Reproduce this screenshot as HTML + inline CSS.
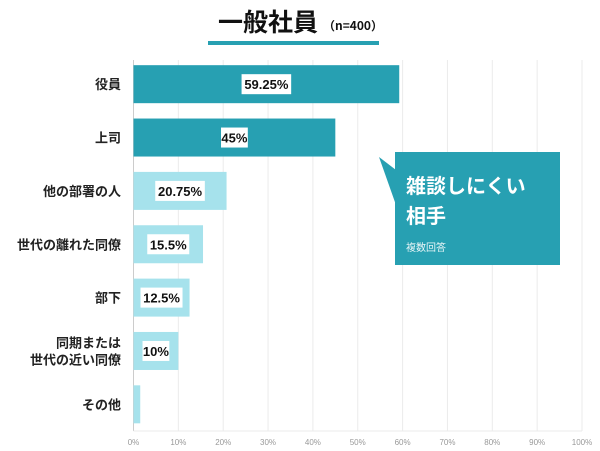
<!DOCTYPE html>
<html><head><meta charset="utf-8"><style>
body{margin:0;background:#fff;font-family:"Liberation Sans","Noto Sans CJK JP",sans-serif;}
#wrap{position:relative;width:600px;height:451px;overflow:hidden;}
</style></head><body>
<div id="wrap">
<svg id="svg" width="600" height="451" xmlns="http://www.w3.org/2000/svg">
<text x="318" y="31" text-anchor="end" font-size="25" font-weight="bold" fill="#111" font-family="'Noto Sans CJK JP',sans-serif">一般社員</text>
<text x="323" y="30" font-size="12" font-weight="bold" fill="#111" font-family="'Noto Sans CJK JP',sans-serif">（n=400）</text>
<rect x="208" y="41" width="171" height="4" fill="#27a0b2"/>
<g id="grid"></g>
<g id="bars"></g>
<g>
<polygon points="379,157 396,170 396,205" fill="#27a0b2"/>
<rect x="395" y="152" width="165" height="113" fill="#27a0b2"/>
<text x="406" y="193" font-size="20" font-weight="bold" fill="#fff" font-family="'Noto Sans CJK JP',sans-serif">雑談しにくい</text>
<text x="406" y="223" font-size="20" font-weight="bold" fill="#fff" font-family="'Noto Sans CJK JP',sans-serif">相手</text>
<text x="406" y="251" font-size="10" fill="#e6f4f6" font-family="'Noto Sans CJK JP',sans-serif">複数回答</text>
</g>
</svg>
</div>
<script>
const categories=[["役員"],["上司"],["他の部署の人"],["世代の離れた同僚"],["部下"],["同期または","世代の近い同僚"],["その他"]];
const values=[59.25,45,20.75,15.5,12.5,10,1.5];
const valueLabels=["59.25%","45%","20.75%","15.5%","12.5%","10%",""];
const ticks=[0,10,20,30,40,50,60,70,80,90,100];
const ns="http://www.w3.org/2000/svg";
const x0=133.5,x1=582,yTop=60,yBot=431,bandTop=57.5;
const xs=v=>x0+(x1-x0)*v/100;
const band=(yBot-bandTop)/categories.length;
const yc=i=>bandTop+band*(i+0.5);
function mk(t,a,p){const e=document.createElementNS(ns,t);for(const k in a)e.setAttribute(k,a[k]);p.appendChild(e);return e;}
const grid=document.getElementById('grid'),bars=document.getElementById('bars');
ticks.forEach(t=>{
 const l=mk('line',{x1:xs(t),x2:xs(t),y1:yTop,y2:yBot,stroke:t===0?'#ccc':'#ebebeb','stroke-width':1},grid);
 
 
 const tx=mk('text',{x:xs(t),y:445,'text-anchor':'middle','font-size':8,fill:'#999'},grid);
 tx.textContent=t+'%';
 
 
});
mk('line',{x1:x0,x2:x1,y1:yBot,y2:yBot,stroke:'#ebebeb'},grid);
values.forEach((v,i)=>{
 const dark=i<2;
 const r=mk('rect',{x:x0,y:yc(i)-19,width:xs(v)-x0,height:38,fill:dark?'#27a0b2':'#a6e2ec'},bars);
 
 
 const lines=categories[i];
 lines.forEach((s,j)=>{
  const t=mk('text',{x:121,y:yc(i)+5+(j-(lines.length-1)/2)*17,'text-anchor':'end','font-size':13,'font-weight':'bold',fill:'#222','font-family':"'Noto Sans CJK JP',sans-serif"},bars);
  t.textContent=s;
  
  
 });
 if(valueLabels[i]){
  const cx=(x0+xs(v))/2;
  const w=valueLabels[i].length*7.6+4;
  mk('rect',{x:cx-w/2,y:yc(i)-10,width:w,height:20,fill:'#fff'},bars);
  const t=mk('text',{x:cx,y:yc(i)+5,'text-anchor':'middle','font-size':13,'font-weight':'bold',fill:'#111'},bars);
  t.textContent=valueLabels[i];
  
  
 }
});
</script>
</body></html>
